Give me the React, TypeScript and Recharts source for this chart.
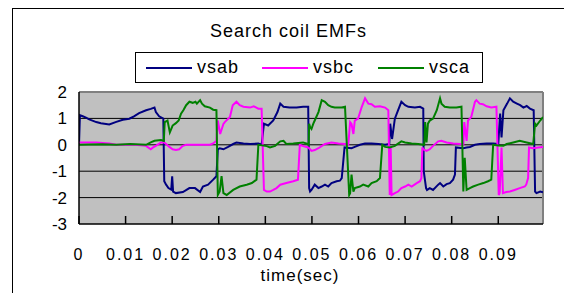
import { LineChart, Line, XAxis, YAxis, CartesianGrid, ReferenceLine } from 'recharts'

// time (s), EMF (V)
const vsab: [number, number][] = [
  [0, 0], [0.0002, 1.12], [0.0008, 1.08], [0.0015, 1.03], [0.0022, 0.96], [0.0037, 0.86], [0.0047, 0.82],
  [0.0065, 0.77], [0.008, 0.87], [0.0094, 0.95], [0.0108, 0.99], [0.0118, 1.08], [0.0129, 1.2], [0.0144, 1.31],
  [0.0154, 1.36], [0.0162, 1.41], [0.0165, 1.24], [0.0172, 1.08], [0.0181, 0.99], [0.0183, -1.38], [0.0187, -1.51],
  [0.0192, -1.64], [0.0198, -1.7], [0.02, -1.19], [0.0202, -1.77], [0.0208, -1.83], [0.0223, -1.79], [0.0237, -1.64],
  [0.0249, -1.64], [0.026, -1.79], [0.0266, -1.58], [0.0277, -1.51], [0.0288, -1.32], [0.0295, -1.19], [0.0298, -0.17],
  [0.0302, -0.13], [0.031, -0.17], [0.032, -0.08], [0.0331, 0.03], [0.0338, 0.09], [0.0353, 0.05], [0.0367, 0.03],
  [0.0385, 0.05], [0.0392, 0], [0.0397, 0.8], [0.0406, 0.73], [0.0417, 0.92], [0.0426, 1.24], [0.0432, 1.56],
  [0.0439, 1.44], [0.0452, 1.41], [0.0467, 1.41], [0.0481, 1.44], [0.0492, 1.44], [0.0494, -1.64], [0.0496, -1.77],
  [0.0499, -1.71], [0.0506, -1.51], [0.0514, -1.64], [0.0521, -1.58], [0.0528, -1.51], [0.0535, -1.58], [0.0542, -1.45],
  [0.0553, -1.38], [0.056, -1.36], [0.0564, -1.26], [0.057, -0.1], [0.0585, -0.13], [0.0592, -0.08], [0.0603, 0],
  [0.0614, 0.05], [0.0628, 0.05], [0.0643, 0.03], [0.0657, 0], [0.0666, 0.03], [0.0668, 0.8], [0.0672, 0.22],
  [0.0678, 0.99], [0.0685, 1.31], [0.0692, 1.63], [0.07, 1.5], [0.0707, 1.44], [0.0721, 1.41], [0.0732, 1.44],
  [0.0739, 1.37], [0.074, -1.0], [0.0745, -1.64], [0.0747, -1.71], [0.0753, -1.64], [0.076, -1.71], [0.0771, -1.51],
  [0.0775, -1.45], [0.0782, -1.58], [0.0789, -1.49], [0.0796, -1.45], [0.0803, -1.32], [0.0807, -1.13], [0.0809, -0.1],
  [0.0825, -0.13], [0.0832, -0.1], [0.0839, -0.08], [0.085, 0], [0.086, 0.03], [0.0875, 0.05], [0.0889, 0.05],
  [0.09, 0.03], [0.0904, 1.18], [0.0907, 0.28], [0.0911, 1.31], [0.0919, 1.56], [0.0925, 1.76], [0.0932, 1.63],
  [0.094, 1.56], [0.0947, 1.5], [0.0954, 1.41], [0.0961, 1.47], [0.0968, 1.37], [0.0976, 1.31], [0.0979, -1.77],
  [0.0982, -1.83], [0.099, -1.77], [0.0996, -1.8],
]

const vsbc: [number, number][] = [
  [0, 0.09], [0.0037, 0.09], [0.0065, 0.05], [0.008, 0], [0.012, 0], [0.0144, -0.04], [0.0154, -0.17], [0.0159, -0.1],
  [0.0165, -0.04], [0.0176, 0.09], [0.0183, 0.09], [0.0187, 0.03], [0.0194, -0.08], [0.0201, -0.17], [0.0208, -0.2],
  [0.0215, -0.17], [0.0223, -0.04], [0.023, 0], [0.0281, 0], [0.0288, 0.05], [0.0295, 0.15], [0.0298, 0.92],
  [0.0303, 0.41], [0.031, 0.79], [0.0313, 0.86], [0.0324, 1.05], [0.033, 1.5], [0.0338, 1.63], [0.0345, 1.5],
  [0.0353, 1.44], [0.0367, 1.41], [0.0375, 1.46], [0.0385, 1.37], [0.0392, 1.37], [0.0397, -1.71], [0.0403, -1.77],
  [0.041, -1.77], [0.0417, -1.71], [0.0424, -1.64], [0.0432, -1.51], [0.0445, -1.45], [0.046, -1.38], [0.047, -1.32],
  [0.0474, 0], [0.0481, -0.05], [0.0492, -0.1], [0.0496, -0.17], [0.0499, -0.23], [0.0506, -0.2], [0.0514, -0.13],
  [0.0528, 0.03], [0.0542, 0.09], [0.0557, 0.05], [0.0571, 0.03], [0.0578, 0], [0.0582, 0.86], [0.0585, 0.79],
  [0.0589, 0.41], [0.0592, 0.92], [0.0599, 0.99], [0.0607, 1.44], [0.0614, 1.76], [0.0621, 1.56], [0.0628, 1.54],
  [0.0635, 1.44], [0.0646, 1.46], [0.0657, 1.41], [0.0664, 1.31], [0.0667, -1.9], [0.0669, -0.05], [0.0671, -1.9],
  [0.0678, -1.83], [0.0685, -1.77], [0.0692, -1.64], [0.07, -1.58], [0.0707, -1.51], [0.0714, -1.58], [0.0725, -1.45],
  [0.0732, -1.38], [0.0735, -1.26], [0.0737, -0.1], [0.0739, -0.17], [0.0746, -0.23], [0.0753, -0.17], [0.076, -0.04],
  [0.0771, 0.13], [0.0778, 0.15], [0.0789, 0.09], [0.0803, 0.05], [0.0818, 0.03], [0.0825, 0], [0.0827, 0.86],
  [0.0832, 0.15], [0.0835, 0.92], [0.0842, 1.05], [0.085, 1.63], [0.0853, 1.69], [0.086, 1.56], [0.0867, 1.54],
  [0.0875, 1.46], [0.0885, 1.41], [0.0896, 1.44], [0.0901, -1.9], [0.0903, -1.83], [0.0907, -0.1], [0.091, -1.83],
  [0.0917, -1.79], [0.0925, -1.77], [0.0935, -1.71], [0.0946, -1.64], [0.0957, -1.58], [0.096, -1.51], [0.0964, -1.26],
  [0.0966, -0.1], [0.0975, -0.13], [0.0986, -0.1], [0.0996, -0.08],
]

const vsca: [number, number][] = [
  [0, 0], [0.002, 0.01], [0.005, 0.02], [0.008, 0], [0.011, 0.03], [0.0144, 0], [0.0154, 0.09], [0.0162, 0.15],
  [0.0176, 0.18], [0.0182, 0.15], [0.0184, 0.86], [0.019, 0.92], [0.0195, 0.47], [0.0201, 0.73], [0.0208, 0.82],
  [0.0214, 0.92], [0.0219, 1.18], [0.0224, 1.31], [0.023, 1.5], [0.0237, 1.63], [0.0244, 1.59], [0.025, 1.63],
  [0.0253, 1.56], [0.026, 1.69], [0.0264, 1.56], [0.027, 1.46], [0.0281, 1.41], [0.0288, 1.33], [0.0295, 1.31],
  [0.0298, -1.9], [0.0302, -1.77], [0.0306, -1.19], [0.031, -1.83], [0.0317, -1.9], [0.0331, -1.71], [0.0345, -1.58],
  [0.036, -1.51], [0.0371, -1.45], [0.0381, -1.32], [0.0385, 0], [0.0403, -0.05], [0.041, -0.1], [0.0421, -0.04],
  [0.0432, 0.13], [0.0439, 0.15], [0.0445, 0.03], [0.046, 0.05], [0.0481, 0.09], [0.0491, 0.03], [0.0493, 0],
  [0.0494, 0.8], [0.0496, 0.67], [0.0499, 0.6], [0.0503, 0.8], [0.0506, 0.92], [0.0514, 1.24], [0.0521, 1.69],
  [0.0528, 1.63], [0.0535, 1.5], [0.0542, 1.44], [0.0549, 1.41], [0.0564, 1.41], [0.0571, 1.44], [0.058, -1.9],
  [0.0582, -1.83], [0.0585, -1.13], [0.0589, -1.77], [0.0592, -1.64], [0.0603, -1.58], [0.061, -1.51], [0.0621, -1.58],
  [0.0628, -1.45], [0.0639, -1.38], [0.0646, -1.26], [0.0651, 0], [0.0657, -0.08], [0.0667, -0.1], [0.0678, -0.04],
  [0.0692, 0.13], [0.07, 0.09], [0.0714, 0.05], [0.0728, 0.03], [0.0741, 0], [0.0743, 0.86], [0.0746, 0.09],
  [0.0749, 0.8], [0.0753, 0.92], [0.076, 0.99], [0.0768, 1.31], [0.0775, 1.76], [0.0778, 1.56], [0.0785, 1.44],
  [0.0796, 1.41], [0.081, 1.41], [0.0821, 1.44], [0.0825, -1.77], [0.0828, -0.49], [0.0832, -1.71], [0.0839, -1.64],
  [0.0846, -1.58], [0.0857, -1.51], [0.0868, -1.45], [0.0878, -1.38], [0.0885, -1.32], [0.0889, 0], [0.09, -0.03],
  [0.0911, -0.04], [0.0918, 0.03], [0.0932, 0.09], [0.0946, 0.15], [0.0961, 0.09], [0.0975, 0.03], [0.0979, 0.8],
  [0.0982, 0.73], [0.099, 0.92], [0.0996, 1.05],
]

const timeTicks = [0, 0.01, 0.02, 0.03, 0.04, 0.05, 0.06, 0.07, 0.08, 0.09]
const voltTicks = [-3, -2, -1, 0, 1, 2]
const gridValues = [1, 0, -1, -2]
const tMax = 0.0996

const series = [
  { name: 'vsab', pts: vsab, color: '#000080' },
  { name: 'vsbc', pts: vsbc, color: '#ff00ff' },
  { name: 'vsca', pts: vsca, color: '#008000' },
]

const font = '"Liberation Sans", Arial, sans-serif'

const fmtTime = (v: number) => (v === 0 ? '0' : v.toFixed(2))

function TimeTick(props: any) {
  const { x, y, payload } = props
  return (
    <g>
      <line x1={x} x2={x} y1={y} y2={y - 8} stroke="#000" strokeWidth={1.5} />
      <text x={x} y={y + 36} textAnchor="middle" fontSize={16} letterSpacing={2} fill="#000" fontFamily={font}>
        {fmtTime(payload.value)}
      </text>
    </g>
  )
}

export default function App() {
  return (
    <div style={{ position: 'fixed', left: 0, top: 0, width: 564, height: 293, overflow: 'hidden', background: '#fff', fontFamily: font }}>
      <div style={{ position: 'absolute', left: 12, top: 8, width: 620, height: 340, border: '1px solid #000' }} />

      <div style={{ position: 'absolute', left: 0, top: 20, width: 577, textAlign: 'center', fontSize: 18, letterSpacing: 1, lineHeight: '22px' }}>
        Search coil EMFs
      </div>

      <div style={{ position: 'absolute', left: 135, top: 52, width: 346, height: 29, border: '1px solid #000', background: '#fff' }}>
        {series.map((s, i) => (
          <div key={s.name} style={{ position: 'absolute', left: 10 + i * 116, top: 0, height: 29, display: 'flex', alignItems: 'center' }}>
            <svg width={46} height={4}>
              <line x1={0} x2={46} y1={2} y2={2} stroke={s.color} strokeWidth={2} />
            </svg>
            <span style={{ marginLeft: 5, fontSize: 18, letterSpacing: 1 }}>{s.name}</span>
          </div>
        ))}
      </div>

      <div style={{ position: 'absolute', left: 0, top: 0 }}>
        <LineChart width={564} height={293} margin={{ top: 92, right: 21, bottom: 39, left: 0 }}>
          <CartesianGrid fill="#c0c0c0" stroke="#000" vertical={false} horizontalValues={gridValues} />
          <XAxis
            type="number"
            dataKey="t"
            domain={[0, tMax]}
            ticks={timeTicks}
            interval={0}
            allowDataOverflow
            height={30}
            tickSize={0}
            tickMargin={0}
            tick={<TimeTick />}
            stroke="#000"
            strokeWidth={1.5}
          />
          <YAxis
            type="number"
            domain={[-3, 2]}
            ticks={voltTicks}
            interval={0}
            width={79}
            tickSize={0}
            tickMargin={12}
            tick={{ fill: '#000', fontSize: 17, fontFamily: font }}
            stroke="#000"
            strokeWidth={1.5}
          />
          <ReferenceLine y={2} stroke="#808080" strokeWidth={2} />
          <ReferenceLine x={tMax} stroke="#808080" strokeWidth={2} />
          {series.map(s => (
            <Line
              key={s.name}
              data={s.pts.map(([t, v]) => ({ t, v }))}
              dataKey="v"
              name={s.name}
              type="linear"
              stroke={s.color}
              strokeWidth={2}
              dot={false}
              isAnimationActive={false}
            />
          ))}
        </LineChart>
      </div>

      <div style={{ position: 'absolute', left: 250, top: 266, width: 100, textAlign: 'center', fontSize: 17, letterSpacing: 1, lineHeight: '20px' }}>
        time(sec)
      </div>
    </div>
  )
}
